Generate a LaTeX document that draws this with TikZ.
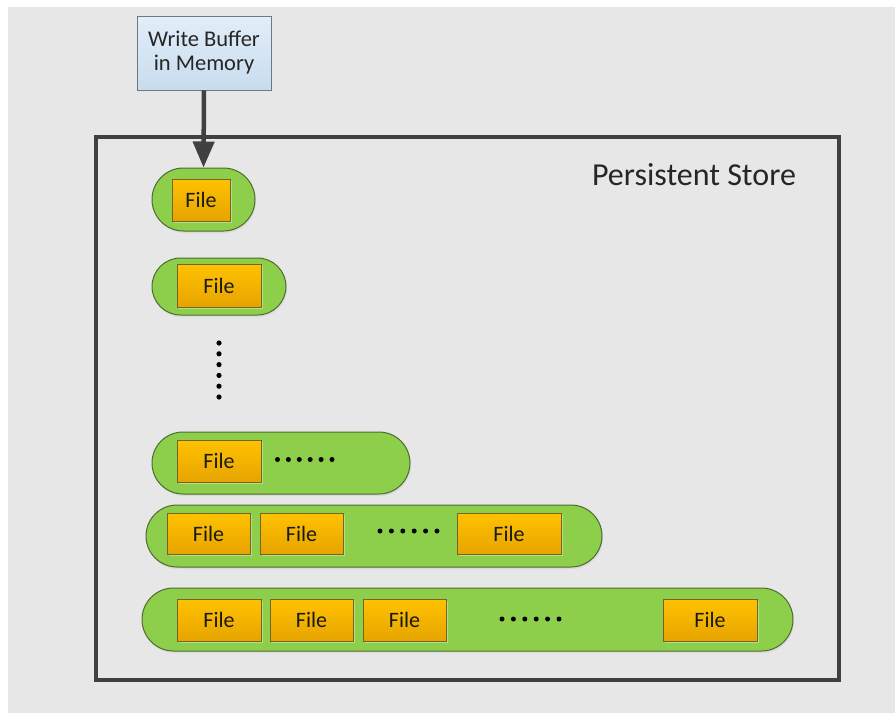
\documentclass[tikz,border=0pt]{standalone}
\usepackage{fontspec}
\setmainfont{Carlito}
\usetikzlibrary{arrows.meta,shadows}
\definecolor{bgc}{RGB}{231,231,231}
\definecolor{pillfill}{RGB}{141,206,74}
\definecolor{pillline}{RGB}{78,108,48}
\definecolor{filetop}{RGB}{255,194,0}
\definecolor{filebot}{RGB}{230,164,0}
\definecolor{fileline}{RGB}{120,98,40}
\definecolor{wbtop}{RGB}{226,238,249}
\definecolor{wbbot}{RGB}{200,220,238}
\definecolor{wbline}{RGB}{110,120,130}
\definecolor{darkline}{RGB}{64,64,64}
\tikzset{
  pill/.style={draw=pillline, line width=1pt, fill=pillfill, rectangle,
    inner sep=0pt, drop shadow={opacity=0.12, shadow xshift=1pt, shadow yshift=-2pt}},
  filebox/.style={draw=fileline, line width=0.9pt, rectangle, inner sep=0pt,
    top color=filetop, bottom color=filebot,
    font=\fontsize{22}{26}\selectfont, text=black!90,
    drop shadow={fill=white, opacity=0.35, shadow xshift=2pt, shadow yshift=-2pt}},
  wbbox/.style={draw=wbline, line width=0.9pt, rectangle, inner sep=0pt,
    top color=wbtop, bottom color=wbbot, align=center,
    font=\fontsize{22.5}{26}\selectfont, text=black!85,
    minimum width=134pt, minimum height=74pt},
  storebox/.style={draw=darkline, line width=4pt, rectangle, inner sep=0pt,
    minimum width=743pt, minimum height=543pt},
  bigarrow/.style={draw=darkline, line width=4.5pt,
    -{Triangle[length=26pt,width=21pt]}},
  dotmark/.style={fill=black},
}
\begin{document}
\begin{tikzpicture}[x=1pt,y=-1pt]
\useasboundingbox (0,0) rectangle (895,713);
\fill[white] (0,0) rectangle (895,713);
\fill[bgc] (8,7) rectangle (895,713);

% persistent store
\node[storebox] (store) at (467.5,408.5) {};
\node[font=\fontsize{32}{38}\selectfont, text=black!85] (title) at (694,175) {Persistent Store};

% write buffer
\node[wbbox] (wb) at (204,53) {Write Buffer\\[-2pt]in Memory};

% pills
\node[pill, minimum width=103pt, minimum height=63pt, rounded corners=31.5pt] (p1) at (203.5,199.5) {};
\node[pill, minimum width=134pt, minimum height=57pt, rounded corners=28.5pt] (p2) at (219,286.5) {};
\node[pill, minimum width=258pt, minimum height=62pt, rounded corners=31pt] (p3) at (281,463) {};
\node[pill, minimum width=456pt, minimum height=62pt, rounded corners=31pt] (p4) at (374,536) {};
\node[pill, minimum width=651pt, minimum height=63pt, rounded corners=31.5pt] (p5) at (467.5,619.5) {};

% files
\node[filebox, minimum width=58pt, minimum height=42pt] (f1) at (201,200) {File};
\node[filebox, minimum width=84pt, minimum height=43pt] (f2) at (219,285.5) {File};
\node[filebox, minimum width=84pt, minimum height=42pt] (f3) at (219,461) {File};
\node[filebox, minimum width=83pt, minimum height=41pt] (f4a) at (208.5,533.5) {File};
\node[filebox, minimum width=83pt, minimum height=41pt] (f4b) at (301.5,533.5) {File};
\node[filebox, minimum width=104pt, minimum height=41pt] (f4c) at (509,533.5) {File};
\node[filebox, minimum width=84pt, minimum height=42pt] (f5a) at (219,620) {File};
\node[filebox, minimum width=83pt, minimum height=42pt] (f5b) at (311.5,620) {File};
\node[filebox, minimum width=83pt, minimum height=42pt] (f5c) at (404.5,620) {File};
\node[filebox, minimum width=94pt, minimum height=42pt] (f5d) at (710,620) {File};

% arrow
\draw[bigarrow] (wb.south) -- (p1.north);

% dots
\foreach \i in {0,...,5} {
  \fill[dotmark] (219,343+10.8*\i) circle (2.6);
  \fill[dotmark] (277.5+10.9*\i,459.5) circle (2.5);
  \fill[dotmark] (380+11.4*\i,531) circle (2.5);
  \fill[dotmark] (502+11.4*\i,619) circle (2.5);
}
\end{tikzpicture}
\end{document}
